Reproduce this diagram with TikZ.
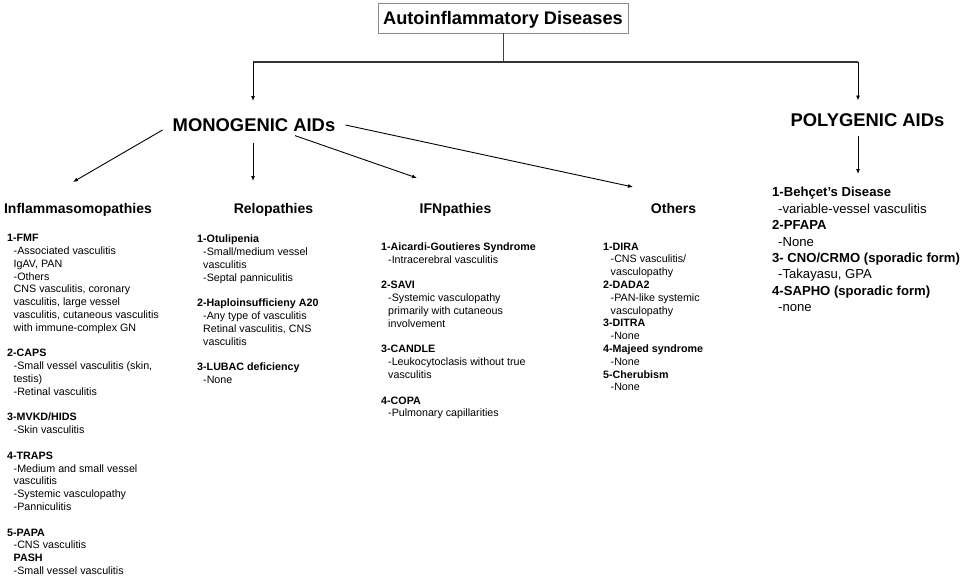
\documentclass[tikz,border=0pt]{standalone}
\usepackage{fontspec}
\setmainfont{Liberation Sans}
\usetikzlibrary{arrows.meta}
\newlength\myindent
\newcommand\myin{\hspace*{\myindent}}
\begin{document}
\begin{tikzpicture}[x=1pt,y=-1pt,
  arr/.style={-{Latex[length=5pt,width=4pt]}, line width=0.9pt, black},
  big/.style={font=\fontsize{18.4}{20}\selectfont\bfseries, inner sep=0pt, text depth=0pt},
  titlebox/.style={draw=black!45, line width=0.9pt, font=\fontsize{18.2}{20}\selectfont\bfseries,
     minimum width=250pt, minimum height=30pt, inner sep=0pt, text depth=0pt},
  head/.style={font=\fontsize{14}{16}\selectfont\bfseries, inner sep=0pt, anchor=base},
  col/.style={font=\fontsize{10.7}{12.8}\selectfont, inner sep=0pt, anchor=north west, align=left,
     execute at begin node={\global\myindent=#1\relax}},
  col/.default=6.5pt,
  pcol/.style={font=\fontsize{13.1}{16.4}\selectfont, inner sep=0pt, anchor=north west, align=left,
     execute at begin node={\global\myindent=#1\relax}},
  pcol/.default=6pt,
  bar/.style={line width=2pt, black!80},
  stem/.style={line width=1pt, black!75},
]
\useasboundingbox (0,0) rectangle (963,578);

% top level
\node[titlebox] (root) at (503,18) {Autoinflammatory Diseases};
\node[big] (mono) at (254,125) {MONOGENIC AIDs};
\node[big] (poly) at (867.5,120) {POLYGENIC AIDs};

\coordinate (jn) at (503,62);
\coordinate (jl) at (253,62);
\coordinate (jr) at (858,62);
\coordinate (mtip) at (253,101);
\coordinate (ptip) at (858,100.5);

\draw[stem] (root.south) -- (jn);
\draw[bar] (jl) -- (jr);
\draw[arr] (jl) -- (mtip);
\draw[arr] (jr) -- (ptip);

% headers
\node[head] (infl) at (78,213) {Inflammasomopathies};
\node[head] (relo) at (273.5,213) {Relopathies};
\node[head] (ifn) at (455.5,213) {IFNpathies};
\node[head] (oth) at (673.5,213) {Others};

% arrow tips
\coordinate (t1) at (73,182);
\coordinate (t2) at (253,181);
\coordinate (t3) at (417,178);
\coordinate (t4) at (633,187);
\coordinate (t5) at (858,174);

\draw[arr] ([shift={(-10,5)}]mono.west) -- (t1);
\draw[arr] ([shift={(-1,11)}]mono.south) -- (t2);
\draw[arr] ([shift={(41,4)}]mono.south) -- (t3);
\draw[arr] ([shift={(10,0)}]mono.east) -- (t4);
\draw[arr] ([shift={(-9.5,9)}]poly.south) -- (t5);

% column texts
\node[col=6.5pt] (inflt) at (7,232.5) {\strut\textbf{1-FMF}\\
\myin-Associated vasculitis\\
\myin IgAV, PAN\\
\myin-Others\\
\myin CNS vasculitis, coronary\\
\myin vasculitis, large vessel\\
\myin vasculitis, cutaneous vasculitis\\
\myin with immune-complex GN\\[12.8pt]
\textbf{2-CAPS}\\
\myin-Small vessel vasculitis (skin,\\
\myin testis)\\
\myin-Retinal vasculitis\\[12.8pt]
\textbf{3-MVKD/HIDS}\\
\myin-Skin vasculitis\\[12.8pt]
\textbf{4-TRAPS}\\
\myin-Medium and small vessel\\
\myin vasculitis\\
\myin-Systemic vasculopathy\\
\myin-Panniculitis\\[12.8pt]
\textbf{5-PAPA}\\
\myin-CNS vasculitis\\
\myin\textbf{PASH}\\
\myin-Small vessel vasculitis};

\node[col=6pt] (relot) at (197,233.5) {\strut\textbf{1-Otulipenia}\\
\myin-Small/medium vessel\\
\myin vasculitis\\
\myin-Septal panniculitis\\[12.8pt]
\textbf{2-Haploinsufficieny A20}\\
\myin-Any type of vasculitis\\
\myin Retinal vasculitis, CNS\\
\myin vasculitis\\[12.8pt]
\textbf{3-LUBAC deficiency}\\
\myin-None};

\node[col=7pt] (ifnt) at (381,241.3) {\strut\textbf{1-Aicardi-Goutieres Syndrome}\\
\myin-Intracerebral vasculitis\\[12.8pt]
\textbf{2-SAVI}\\
\myin-Systemic vasculopathy\\
\myin primarily with cutaneous\\
\myin involvement\\[12.8pt]
\textbf{3-CANDLE}\\
\myin-Leukocytoclasis without true\\
\myin vasculitis\\[12.8pt]
\textbf{4-COPA}\\
\myin-Pulmonary capillarities};

\node[col=7.5pt] (otht) at (603,241) {\strut\textbf{1-DIRA}\\
\myin-CNS vasculitis/\\
\myin vasculopathy\\
\textbf{2-DADA2}\\
\myin-PAN-like systemic\\
\myin vasculopathy\\
\textbf{3-DITRA}\\
\myin-None\\
\textbf{4-Majeed syndrome}\\
\myin-None\\
\textbf{5-Cherubism}\\
\myin-None};

\node[pcol=6pt] (polyt) at (772,185.3) {\strut\textbf{1-Behçet’s Disease}\\
\myin-variable-vessel vasculitis\\
\textbf{2-PFAPA}\\
\myin-None\\
\textbf{3- CNO/CRMO (sporadic form)}\\
\myin-Takayasu, GPA\\
\textbf{4-SAPHO (sporadic form)}\\
\myin-none};
\end{tikzpicture}
\end{document}
